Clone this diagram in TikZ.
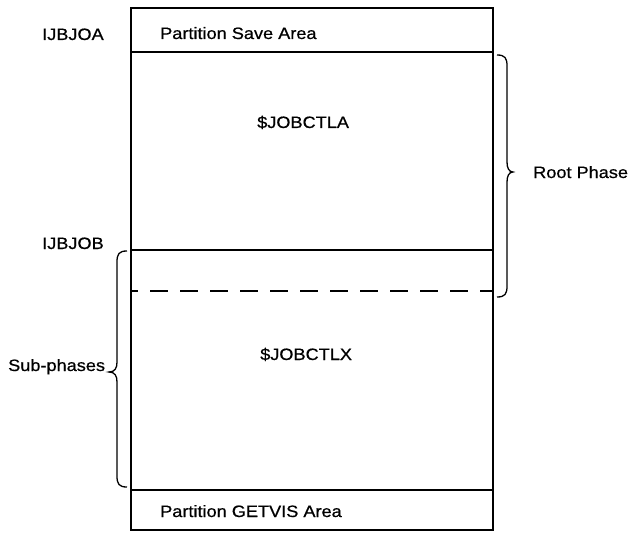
\documentclass[tikz,border=0pt]{standalone}
\usepackage{fontspec}
\setmainfont{Liberation Sans}[FakeStretch=1.1,FakeBold=0.6]
\begin{document}
\begin{tikzpicture}[x=1pt,y=-1pt,
  lbl/.style={inner sep=0pt,anchor=base west,font=\fontsize{16.5}{18}\selectfont},
  outer/.style={line width=1.8pt},
  inner/.style={line width=1.1pt},
  bracepath/.style={line width=1.3pt}]
\useasboundingbox (0,0) rectangle (628,532);
% main rectangle
\draw[outer] (131,8) rectangle (493,530);
\draw[inner] (131,52) -- (493,52);
\draw[inner] (131,250) -- (493,250);
\draw[inner,dash pattern=on 18pt off 12pt,dash phase=-19pt] (131,291) -- (493,291);
\draw[inner] (131,490) -- (493,490);
% texts
\node[lbl] (ijbjoa) at (42,40) {IJBJOA};
\node[lbl] (ijbjob) at (42,249) {IJBJOB};
\node[lbl] (sub) at (8,371) {Sub-phases};
\node[lbl] (root) at (533,178) {Root Phase};
\node[lbl] (psa) at (160,39) {Partition Save Area};
\node[lbl] (jca) at (257,128) {\$JOBCTLA};
\node[lbl] (jcx) at (260,360) {\$JOBCTLX};
\node[lbl] (getvis) at (160,517) {Partition GETVIS Area};
% right brace (Root Phase)
\coordinate (rbt) at (497,55);
\coordinate (rbtip) at (513,172);
\coordinate (rbb) at (497,297);
\draw[bracepath] (rbt) .. controls (505,55) and (507,58) .. (507,66) -- (507,162)
  .. controls (507,168) and (509,172) .. (rbtip)
  .. controls (509,172) and (507,176) .. (507,182) -- (507,286)
  .. controls (507,294) and (505,297) .. (rbb);
% left brace (Sub-phases)
\coordinate (lbt) at (127,251);
\coordinate (lbtip) at (109,372);
\coordinate (lbb) at (127,487);
\draw[bracepath] (lbt) .. controls (119,251) and (117,254) .. (117,262) -- (117,362)
  .. controls (117,368) and (115,372) .. (lbtip)
  .. controls (115,372) and (117,376) .. (117,382) -- (117,476)
  .. controls (117,484) and (119,487) .. (lbb);
\end{tikzpicture}
\end{document}
